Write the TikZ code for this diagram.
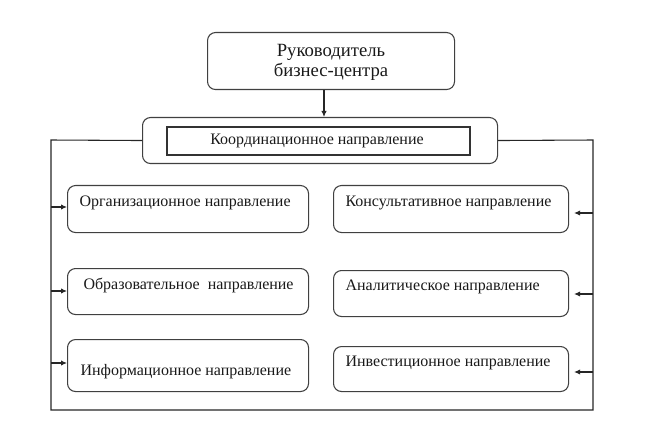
\documentclass[tikz,border=0pt]{standalone}
\usepackage{fontspec}
\setmainfont{Liberation Serif}
\usetikzlibrary{arrows.meta}
\begin{document}
\begin{tikzpicture}[x=0.75pt,y=-0.75pt,
  line width=0.8pt,
  rbox/.style={draw=black!75, rounded corners=6pt, minimum width=#1, inner sep=0pt},
  lbl/.style={font=\fontsize{12}{14}\selectfont, text=black!90, inner sep=0pt},
  conn/.style={draw=black!85, line width=0.8pt},
  arr/.style={conn, -{Latex[length=4.5pt,width=4pt]}}
]
\useasboundingbox (0,0) rectangle (646,431);
% top box
\node[rbox=247*0.75pt, minimum height=57*0.75pt, anchor=north west] (top) at (207,32) {};
\node[lbl, font=\fontsize{14}{15}\selectfont, align=center] (toptxt) at (331,62) {Руководитель\\бизнес-центра};
% coordination
\node[rbox=355*0.75pt, minimum height=46*0.75pt, anchor=north west] (coord) at (142,117) {};
\node[draw=black!80, line width=1.2pt, minimum width=303*0.75pt, minimum height=28*0.75pt, inner sep=0pt, anchor=north west] (coordin) at (166,126) {};
\node[lbl] (coordtxt) at (317,141) {Координационное направление};
\draw[arr] (top.south -| 324,0) -- (coord.north -| 324,0);
% left boxes
\node[rbox=241*0.75pt, minimum height=47*0.75pt, anchor=north west] (L1) at (67,185) {};
\node[rbox=241*0.75pt, minimum height=46*0.75pt, anchor=north west] (L2) at (67,268) {};
\node[rbox=241*0.75pt, minimum height=52*0.75pt, anchor=north west] (L3) at (67,339) {};
\node[lbl, anchor=west] (L1t) at (79,203) {Организационное направление};
\node[lbl, anchor=west] (L2t) at (83,285) {Образовательное\ \ направление};
\node[lbl, anchor=west] (L3t) at (80,372) {Информационное направление};
% right boxes
\node[rbox=235*0.75pt, minimum height=47*0.75pt, anchor=north west] (R1) at (333,185) {};
\node[rbox=235*0.75pt, minimum height=46*0.75pt, anchor=north west] (R2) at (333,270) {};
\node[rbox=235*0.75pt, minimum height=45*0.75pt, anchor=north west] (R3) at (333,346) {};
\node[lbl, anchor=west] (R1t) at (345,203) {Консультативное направление};
\node[lbl, anchor=west] (R2t) at (345,287) {Аналитическое направление};
\node[lbl, anchor=west] (R3t) at (345,363) {Инвестиционное направление};
% frame
\coordinate (ftl) at (51,140);
\coordinate (fbl) at (51,410);
\coordinate (fbr) at (593,410);
\coordinate (ftr) at (593,140);
\draw[conn] (coord.west) -- (ftl) -- (fbl) -- (fbr) -- (ftr) -- (coord.east);
% arrows
\coordinate (al1) at (51,207);
\coordinate (al2) at (51,291);
\coordinate (al3) at (51,363);
\coordinate (ar1) at (593,213);
\coordinate (ar2) at (593,294);
\coordinate (ar3) at (593,372);
\draw[arr] (al1) -- (L1.west |- al1);
\draw[arr] (al2) -- (L2.west |- al2);
\draw[arr] (al3) -- (L3.west |- al3);
\draw[arr, shorten >=5*0.75pt] (ar1) -- (R1.east |- ar1);
\draw[arr, shorten >=5*0.75pt] (ar2) -- (R2.east |- ar2);
\draw[arr, shorten >=5*0.75pt] (ar3) -- (R3.east |- ar3);
\end{tikzpicture}
\end{document}
